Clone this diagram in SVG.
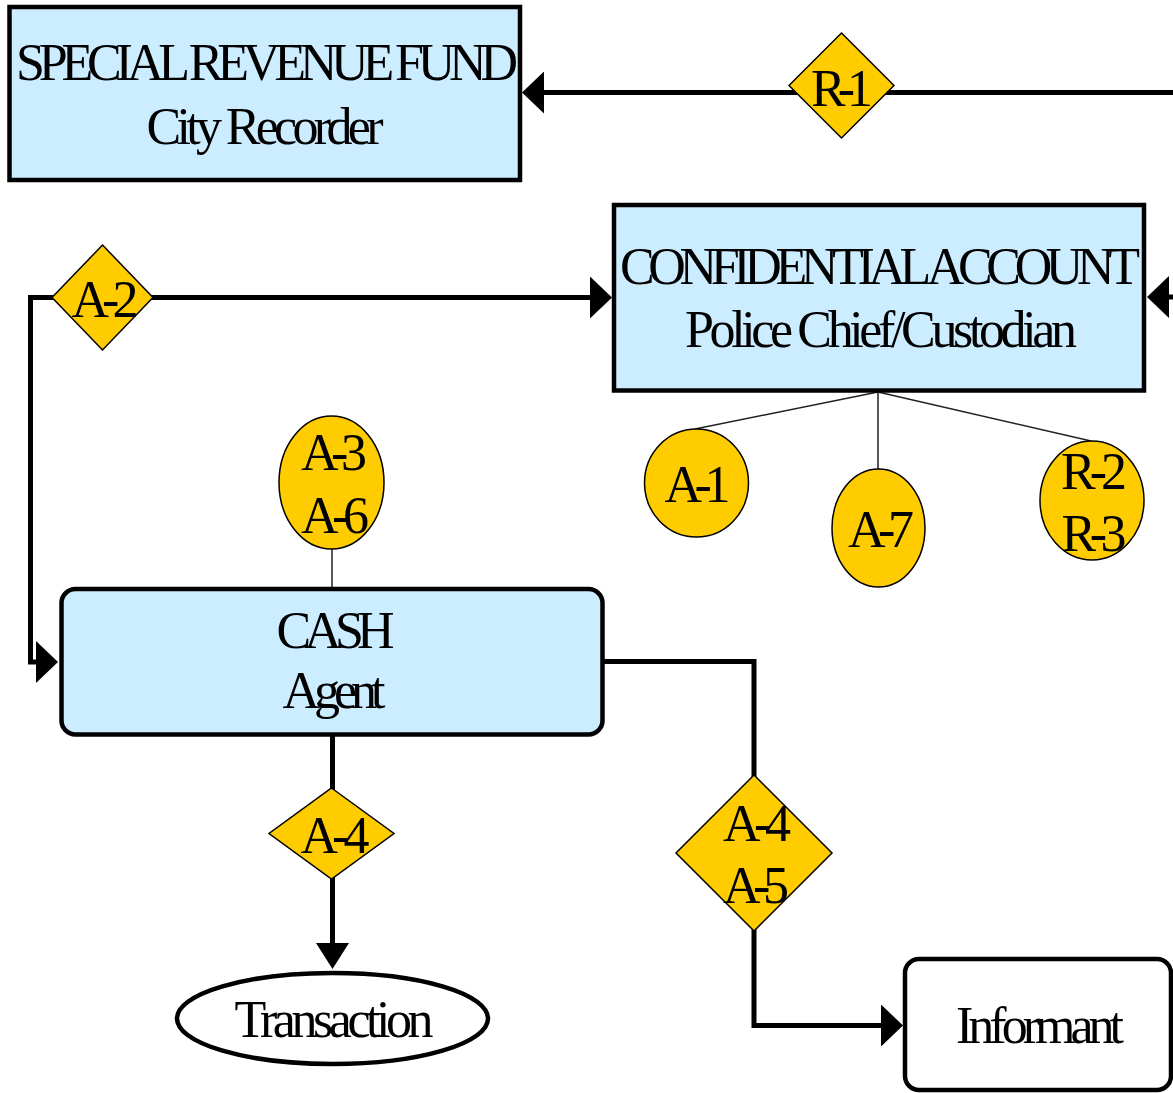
<svg xmlns="http://www.w3.org/2000/svg" width="1173" height="1093" viewBox="0 0 1173 1093">
<style>
.box{fill:#CCECFF;stroke:#000;stroke-width:4.5}
.term{fill:#fff;stroke:#000;stroke-width:4.5}
.tag{fill:#FFCC00;stroke:#000;stroke-width:1.5}
.flow{fill:none;stroke:#000;stroke-width:5}
.thin{fill:none;stroke:#222;stroke-width:1.5}
.t{font-family:'Liberation Serif','Times New Roman',serif;font-size:52px;fill:#000;text-anchor:middle}
</style>
<defs>
<marker id="arrH" markerUnits="userSpaceOnUse" viewBox="0 0 22 42" refX="4" refY="21" markerWidth="22" markerHeight="42" orient="auto">
<path d="M0,0 L22,21 L0,42 z" fill="#000"/>
</marker>
<marker id="arrV" markerUnits="userSpaceOnUse" viewBox="0 0 26 33" refX="8" refY="16.5" markerWidth="26" markerHeight="33" orient="auto">
<path d="M0,0 L26,16.5 L0,33 z" fill="#000"/>
</marker>
</defs>

<g id="connectors">
<path class="flow" d="M1176,92.5 H540" marker-end="url(#arrH)"/>
<path class="flow" d="M1176,297 H1165" marker-end="url(#arrH)"/>
<path class="flow" d="M30.5,662 V297.5 H594" marker-end="url(#arrH)"/>
<path class="flow" d="M30.5,297.5 V662 H40" marker-end="url(#arrH)"/>
<path class="flow" d="M332.5,734.5 V951" marker-end="url(#arrV)"/>
<path class="flow" d="M602.5,661.5 H754 V1025.5 H885" marker-end="url(#arrH)"/>
<path class="thin" d="M878,392 L695,429"/>
<path class="thin" d="M878,392 V469"/>
<path class="thin" d="M878,392 L1091,441"/>
<path class="thin" d="M332,549 V587" stroke="#555"/>
</g>

<g id="special-revenue-fund">
<rect class="box" x="9.5" y="7" width="510.5" height="173"/>
<text class="t" x="267" y="80" textLength="502" lengthAdjust="spacing">SPECIAL REVENUE FUND</text>
<text class="t" x="265" y="144" textLength="237" lengthAdjust="spacing">City Recorder</text>
</g>

<g id="r1">
<polygon class="tag" points="841.5,33 894,85.5 841.5,138 789,85.5"/>
<text class="t" x="842" y="106" textLength="62" lengthAdjust="spacing">R-1</text>
</g>

<g id="confidential-account">
<rect class="box" x="614" y="205" width="530" height="185.5"/>
<text class="t" x="880" y="284" textLength="520" lengthAdjust="spacing">CONFIDENTIAL ACCOUNT</text>
<text class="t" x="881" y="347" textLength="392" lengthAdjust="spacing">Police Chief/Custodian</text>
</g>

<g id="a2">
<polygon class="tag" points="102.5,245 153,297.5 102.5,350 52,297.5"/>
<text class="t" x="105" y="317" textLength="67" lengthAdjust="spacing">A-2</text>
</g>

<g id="a1">
<ellipse class="tag" cx="696.5" cy="483" rx="52" ry="54"/>
<text class="t" x="697.5" y="502" textLength="66" lengthAdjust="spacing">A-1</text>
</g>

<g id="a7">
<ellipse class="tag" cx="878.5" cy="528" rx="46.5" ry="59"/>
<text class="t" x="881" y="547" textLength="66" lengthAdjust="spacing">A-7</text>
</g>

<g id="r2-r3">
<ellipse class="tag" cx="1092" cy="500.5" rx="52" ry="59.5"/>
<text class="t" x="1094" y="489" textLength="66" lengthAdjust="spacing">R-2</text>
<text class="t" x="1094" y="551" textLength="65" lengthAdjust="spacing">R-3</text>
</g>

<g id="a3-a6">
<ellipse class="tag" cx="331.5" cy="482.5" rx="52.5" ry="66.5"/>
<text class="t" x="334" y="470" textLength="66" lengthAdjust="spacing">A-3</text>
<text class="t" x="335" y="533" textLength="68" lengthAdjust="spacing">A-6</text>
</g>

<g id="cash">
<rect class="box" x="61.5" y="589" width="541" height="145.5" rx="14" stroke-width="5"/>
<text class="t" x="335.5" y="648" textLength="118" lengthAdjust="spacing">CASH</text>
<text class="t" x="334" y="708" textLength="103" lengthAdjust="spacing">Agent</text>
</g>

<g id="a4">
<polygon class="tag" points="331.5,788 394,833.5 331.5,879 269,833.5"/>
<text class="t" x="335" y="853" textLength="69" lengthAdjust="spacing">A-4</text>
</g>

<g id="a4-a5">
<polygon class="tag" points="754,775 832,853 754,931 676,853"/>
<text class="t" x="757" y="841" textLength="68" lengthAdjust="spacing">A-4</text>
<text class="t" x="756" y="903" textLength="66" lengthAdjust="spacing">A-5</text>
</g>

<g id="transaction">
<ellipse class="term" cx="332.5" cy="1018.5" rx="155.5" ry="45.5"/>
<text class="t" x="334" y="1037" textLength="199" lengthAdjust="spacing">Transaction</text>
</g>

<g id="informant">
<rect class="term" x="905" y="959" width="266" height="131" rx="14"/>
<text class="t" x="1040" y="1043" textLength="168" lengthAdjust="spacing">Informant</text>
</g>
</svg>
